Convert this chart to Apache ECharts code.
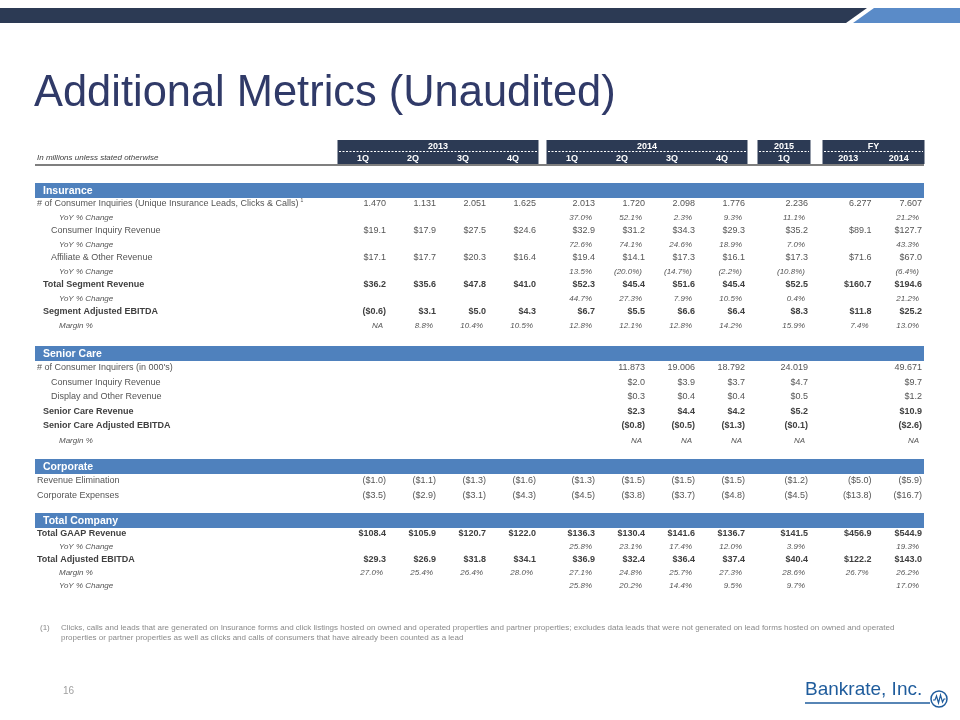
<!DOCTYPE html>
<html><head><meta charset="utf-8">
<script src="https://cdn.jsdelivr.net/npm/echarts@6/dist/echarts.min.js"></script>
<style>html,body{margin:0;padding:0;background:#fff}#c{width:960px;height:720px}</style>
</head><body><div id="c"></div>
<script>
// ---------- DATA ----------
const titleText = 'Additional Metrics (Unaudited)';
const unitsNote = 'In millions unless stated otherwise';
const groupYears = ['2013', '2014', '2015', 'FY'];
const groupCols = [['1Q', '2Q', '3Q', '4Q'], ['1Q', '2Q', '3Q', '4Q'], ['1Q'], ['2013', '2014']];
const sectionNames = ['Insurance', 'Senior Care', 'Corporate', 'Total Company'];

// Insurance
const insInquiries = [1.470, 1.131, 2.051, 1.625, 2.013, 1.720, 2.098, 1.776, 2.236, 6.277, 7.607];
const insInquiriesYoY = [null, null, null, null, 37.0, 52.1, 2.3, 9.3, 11.1, null, 21.2];
const insInquiryRevenue = [19.1, 17.9, 27.5, 24.6, 32.9, 31.2, 34.3, 29.3, 35.2, 89.1, 127.7];
const insInquiryRevenueYoY = [null, null, null, null, 72.6, 74.1, 24.6, 18.9, 7.0, null, 43.3];
const insAffiliateRevenue = [17.1, 17.7, 20.3, 16.4, 19.4, 14.1, 17.3, 16.1, 17.3, 71.6, 67.0];
const insAffiliateRevenueYoY = [null, null, null, null, 13.5, -20.0, -14.7, -2.2, -10.8, null, -6.4];
const insSegmentRevenue = [36.2, 35.6, 47.8, 41.0, 52.3, 45.4, 51.6, 45.4, 52.5, 160.7, 194.6];
const insSegmentRevenueYoY = [null, null, null, null, 44.7, 27.3, 7.9, 10.5, 0.4, null, 21.2];
const insSegmentEbitda = [-0.6, 3.1, 5.0, 4.3, 6.7, 5.5, 6.6, 6.4, 8.3, 11.8, 25.2];
const insSegmentMargin = ['NA', 8.8, 10.4, 10.5, 12.8, 12.1, 12.8, 14.2, 15.9, 7.4, 13.0];

// Senior Care
const scInquirers = [null, null, null, null, null, 11.873, 19.006, 18.792, 24.019, null, 49.671];
const scInquiryRevenue = [null, null, null, null, null, 2.0, 3.9, 3.7, 4.7, null, 9.7];
const scDisplayRevenue = [null, null, null, null, null, 0.3, 0.4, 0.4, 0.5, null, 1.2];
const scRevenue = [null, null, null, null, null, 2.3, 4.4, 4.2, 5.2, null, 10.9];
const scEbitda = [null, null, null, null, null, -0.8, -0.5, -1.3, -0.1, null, -2.6];
const scMargin = [null, null, null, null, null, 'NA', 'NA', 'NA', 'NA', null, 'NA'];

// Corporate
const corpRevenueElimination = [-1.0, -1.1, -1.3, -1.6, -1.3, -1.5, -1.5, -1.5, -1.2, -5.0, -5.9];
const corpExpenses = [-3.5, -2.9, -3.1, -4.3, -4.5, -3.8, -3.7, -4.8, -4.5, -13.8, -16.7];

// Total Company
const tcGaapRevenue = [108.4, 105.9, 120.7, 122.0, 136.3, 130.4, 141.6, 136.7, 141.5, 456.9, 544.9];
const tcGaapRevenueYoY = [null, null, null, null, 25.8, 23.1, 17.4, 12.0, 3.9, null, 19.3];
const tcAdjEbitda = [29.3, 26.9, 31.8, 34.1, 36.9, 32.4, 36.4, 37.4, 40.4, 122.2, 143.0];
const tcAdjEbitdaMargin = [27.0, 25.4, 26.4, 28.0, 27.1, 24.8, 25.7, 27.3, 28.6, 26.7, 26.2];
const tcAdjEbitdaYoY = [null, null, null, null, 25.8, 20.2, 14.4, 9.5, 9.7, null, 17.0];

const footnoteMark = '(1)';
const footnoteLines = [
  'Clicks, calls and leads that are generated on Insurance forms and click listings hosted on owned and operated properties and partner properties; excludes data leads that were not generated on lead forms hosted on owned and operated',
  'properties or partner properties as well as clicks and calls of consumers that have already been counted as a lead'
];
const pageNumber = '16';
const logoText = 'Bankrate, Inc.';

// ---------- TABLE STRUCTURE (built from the arrays above) ----------
const YOY = 'YoY % Change', MARGIN = 'Margin %';
const sections = [
  [
    { kind: 'bar', label: sectionNames[0] },
    { label: '# of Consumer Inquiries (Unique Insurance Leads, Clicks & Calls)', sup: '1', values: insInquiries, fmt: 'count', style: 'main', indent: 2 },
    { label: YOY, values: insInquiriesYoY, fmt: 'pct', style: 'sub', indent: 24 },
    { label: 'Consumer Inquiry Revenue', values: insInquiryRevenue, fmt: 'money', style: 'main', indent: 16 },
    { label: YOY, values: insInquiryRevenueYoY, fmt: 'pct', style: 'sub', indent: 24 },
    { label: 'Affiliate & Other Revenue', values: insAffiliateRevenue, fmt: 'money', style: 'main', indent: 16 },
    { label: YOY, values: insAffiliateRevenueYoY, fmt: 'pct', style: 'sub', indent: 24 },
    { label: 'Total Segment Revenue', values: insSegmentRevenue, fmt: 'money', style: 'bold', indent: 8 },
    { label: YOY, values: insSegmentRevenueYoY, fmt: 'pct', style: 'sub', indent: 24 },
    { label: 'Segment Adjusted EBITDA', values: insSegmentEbitda, fmt: 'money', style: 'bold', indent: 8 },
    { label: MARGIN, values: insSegmentMargin, fmt: 'pct', style: 'sub', indent: 24 }
  ],
  [
    { kind: 'bar', label: sectionNames[1] },
    { label: "# of Consumer Inquirers (in 000's)", values: scInquirers, fmt: 'count', style: 'main', indent: 2 },
    { label: 'Consumer Inquiry Revenue', values: scInquiryRevenue, fmt: 'money', style: 'main', indent: 16 },
    { label: 'Display and Other Revenue', values: scDisplayRevenue, fmt: 'money', style: 'main', indent: 16 },
    { label: 'Senior Care Revenue', values: scRevenue, fmt: 'money', style: 'bold', indent: 8 },
    { label: 'Senior Care Adjusted EBITDA', values: scEbitda, fmt: 'money', style: 'bold', indent: 8 },
    { label: MARGIN, values: scMargin, fmt: 'pct', style: 'sub', indent: 24 }
  ],
  [
    { kind: 'bar', label: sectionNames[2] },
    { label: 'Revenue Elimination', values: corpRevenueElimination, fmt: 'money', style: 'main', indent: 2 },
    { label: 'Corporate Expenses', values: corpExpenses, fmt: 'money', style: 'main', indent: 2 }
  ],
  [
    { kind: 'bar', label: sectionNames[3] },
    { label: 'Total GAAP Revenue', values: tcGaapRevenue, fmt: 'money', style: 'bold', indent: 2 },
    { label: YOY, values: tcGaapRevenueYoY, fmt: 'pct', style: 'sub', indent: 24 },
    { label: 'Total Adjusted EBITDA', values: tcAdjEbitda, fmt: 'money', style: 'bold', indent: 2 },
    { label: MARGIN, values: tcAdjEbitdaMargin, fmt: 'pct', style: 'sub', indent: 24 },
    { label: YOY, values: tcAdjEbitdaYoY, fmt: 'pct', style: 'sub', indent: 24 }
  ]
];

// ---------- LAYOUT & STYLE ----------
const FONT = '"Liberation Sans", Arial, Helvetica, sans-serif';
const DARK = '#2C3A54';
const BAR_BLUE = '#4F81BD';
const TABLE_LEFT = 35, TABLE_RIGHT = 924;
const groupBoxes = [{ left: 338, width: 200 }, { left: 547, width: 200 }, { left: 758, width: 52 }, { left: 823, width: 101 }];
const headerBox = { top: 140, height: 24 };
const sectionLayout = [
  { center: 190.5, slot: 13.5 },
  { center: 353.5, slot: 14.5 },
  { center: 466.5, slot: 14.3 },
  { center: 520.5, slot: 13.0 }
];
const rowStyles = {
  main: { fontSize: 9, fontWeight: 'normal', fontStyle: 'normal', fill: '#555555', pad: 2 },
  bold: { fontSize: 9, fontWeight: 'bold', fontStyle: 'normal', fill: '#3f3f3f', pad: 2 },
  sub: { fontSize: 8, fontWeight: 'normal', fontStyle: 'italic', fill: '#555555', pad: 5 }
};

function fmtValue(v, kind) {
  if (typeof v === 'string') return v;
  const a = Math.abs(v);
  if (kind === 'count') return v.toFixed(3);
  if (kind === 'money') return v < 0 ? '($' + a.toFixed(1) + ')' : '$' + a.toFixed(1);
  return v < 0 ? '(' + a.toFixed(1) + '%)' : a.toFixed(1) + '%';
}

const option = { animation: false, grid: [], xAxis: [], yAxis: [], series: [] };
function addGrid(left, top, width, height, xData, yData) {
  const i = option.grid.length;
  option.grid.push({ left, top, width, height, containLabel: false, show: false });
  option.xAxis.push({ type: 'category', gridIndex: i, data: xData, show: false });
  option.yAxis.push({ type: 'category', gridIndex: i, data: yData, inverse: true, show: false });
  return i;
}

// Header boxes
let colStart = 0;
const groupStarts = [];
groupCols.forEach((cols, gi) => {
  groupStarts.push(colStart); colStart += cols.length;
  const box = groupBoxes[gi];
  const idx = addGrid(box.left, headerBox.top, box.width, headerBox.height, cols, ['year', 'quarter']);
  // box cells
  option.series.push({
    type: 'custom', coordinateSystem: 'cartesian2d', xAxisIndex: idx, yAxisIndex: idx,
    data: cols.map((c, ci) => [ci, 1]), encode: { x: 0, y: 1 }, silent: true, z: 2,
    renderItem: function (params, api) {
      const cs = params.coordSys;
      const c = api.coord([api.value(0), 1]);
      const s = api.size([1, 1]);
      return { type: 'rect', shape: { x: c[0] - s[0] / 2 - 0.5, y: cs.y, width: s[0] + 1, height: cs.height }, style: { fill: DARK } };
    }
  });
  // header texts
  option.series.push({
    type: 'custom', coordinateSystem: 'cartesian2d', xAxisIndex: idx, yAxisIndex: idx,
    data: cols.map((c, ci) => [ci, 1]), encode: { x: 0, y: 1 }, silent: true, z: 4,
    renderItem: function (params, api) {
      const cs = params.coordSys;
      const c = api.coord([api.value(0), 1]);
      const children = [
        { type: 'text', x: c[0], y: c[1] + 0.5, style: { text: cols[params.dataIndex], align: 'center', verticalAlign: 'middle', fill: '#ffffff', fontSize: 9, fontWeight: 'bold', fontFamily: FONT } }
      ];
      if (params.dataIndex === 0) {
        const yMid = cs.y + cs.height / 2;
        children.push({ type: 'line', shape: { x1: cs.x + 1, y1: yMid - 0.5, x2: cs.x + cs.width - 1, y2: yMid - 0.5 }, style: { stroke: '#ffffff', lineWidth: 1, lineDash: [2, 1.5] } });
        children.push({ type: 'text', x: cs.x + cs.width / 2, y: cs.y + cs.height / 4 + 0.5, style: { text: groupYears[gi], align: 'center', verticalAlign: 'middle', fill: '#ffffff', fontSize: 9, fontWeight: 'bold', fontFamily: FONT } });
      }
      return { type: 'group', children };
    }
  });
});

// Sections
sections.forEach((rows, si) => {
  const lay = sectionLayout[si];
  const top = lay.center - lay.slot / 2;
  const height = lay.slot * rows.length;
  const yData = rows.map((r, i) => String(i));
  const li = addGrid(TABLE_LEFT, top, TABLE_RIGHT - TABLE_LEFT, height, ['label'], yData);
  option.series.push({
    type: 'custom', coordinateSystem: 'cartesian2d', xAxisIndex: li, yAxisIndex: li,
    data: rows.map((r, i) => [0, i]), encode: { x: 0, y: 1 }, silent: true, z: 1,
    renderItem: function (params, api) {
      const r = rows[params.dataIndex];
      const c = api.coord([0, api.value(1)]);
      const s = api.size([1, 1]);
      const x0 = c[0] - s[0] / 2;
      if (r.kind === 'bar') {
        return { type: 'group', children: [
          { type: 'rect', shape: { x: x0, y: c[1] - 7.5, width: s[0], height: 15 }, style: { fill: BAR_BLUE } },
          { type: 'text', x: x0 + 8, y: c[1] + 0.5, style: { text: r.label, align: 'left', verticalAlign: 'middle', fill: '#ffffff', fontSize: 10.5, fontWeight: 'bold', fontFamily: FONT } }
        ] };
      }
      const st = rowStyles[r.style];
      const txtStyle = { align: 'left', verticalAlign: 'middle', fill: st.fill, fontSize: st.fontSize, fontWeight: st.fontWeight, fontStyle: st.fontStyle, fontFamily: FONT };
      if (r.sup) {
        txtStyle.text = '{a|' + r.label + '}{s|' + r.sup + '}';
        txtStyle.rich = {
          a: { fill: st.fill, fontSize: st.fontSize, fontFamily: FONT, lineHeight: 11 },
          s: { fill: st.fill, fontSize: 5, fontFamily: FONT, verticalAlign: 'top', lineHeight: 11, padding: [0, 0, 0, 2] }
        };
      } else {
        txtStyle.text = r.label;
      }
      return { type: 'text', x: x0 + r.indent, y: c[1], style: txtStyle };
    }
  });

  groupCols.forEach((cols, gi) => {
    const box = groupBoxes[gi];
    const gIdx = addGrid(box.left, top, box.width, height, cols, yData);
    const cells = [];
    rows.forEach((r, ri) => {
      if (!r.values) return;
      cols.forEach((_, ci) => {
        const v = r.values[groupStarts[gi] + ci];
        if (v === null || v === undefined) return;
        cells.push({ ci, ri, text: fmtValue(v, r.fmt), st: rowStyles[r.style] });
      });
    });
    option.series.push({
      type: 'custom', coordinateSystem: 'cartesian2d', xAxisIndex: gIdx, yAxisIndex: gIdx,
      data: cells.map(c => [c.ci, c.ri]), encode: { x: 0, y: 1 }, silent: true, z: 3,
      renderItem: function (params, api) {
        const cell = cells[params.dataIndex];
        const c = api.coord([api.value(0), api.value(1)]);
        const s = api.size([1, 1]);
        const st = cell.st;
        return { type: 'text', x: c[0] + s[0] / 2 - st.pad, y: c[1], style: {
          text: cell.text, align: 'right', verticalAlign: 'middle', fill: st.fill,
          fontSize: st.fontSize, fontWeight: st.fontWeight, fontStyle: st.fontStyle, fontFamily: FONT } };
      }
    });
  });
});

// Slide decorations
option.graphic = { elements: [
  { type: 'polygon', shape: { points: [[0, 8], [867, 8], [846, 23], [0, 23]] }, style: { fill: DARK }, silent: true },
  { type: 'polygon', shape: { points: [[874, 8], [960, 8], [960, 23], [853, 23]] }, style: { fill: '#5A8BC8' }, silent: true },
  { type: 'text', x: 34, y: 94, scaleX: 0.965, style: { text: titleText, fontSize: 45, fontFamily: FONT, fill: '#303A68', verticalAlign: 'middle' }, silent: true },
  { type: 'text', x: 37, y: 158, style: { text: unitsNote, fontSize: 8, fontStyle: 'italic', fontFamily: FONT, fill: '#404040', verticalAlign: 'middle' }, silent: true },
  { type: 'line', shape: { x1: TABLE_LEFT, y1: 165, x2: TABLE_RIGHT, y2: 165 }, style: { stroke: '#7F7F7F', lineWidth: 2 }, silent: true },
  { type: 'text', x: 40, y: 628, style: { text: footnoteMark, fontSize: 8, fontFamily: FONT, fill: '#8A8A8A', verticalAlign: 'middle' }, silent: true },
  { type: 'text', x: 61, y: 628, style: { text: footnoteLines[0], fontSize: 8, fontFamily: FONT, fill: '#8A8A8A', verticalAlign: 'middle' }, silent: true },
  { type: 'text', x: 61, y: 638, style: { text: footnoteLines[1], fontSize: 8, fontFamily: FONT, fill: '#8A8A8A', verticalAlign: 'middle' }, silent: true },
  { type: 'text', x: 63, y: 691, style: { text: pageNumber, fontSize: 10, fontFamily: FONT, fill: '#A0A0A0', verticalAlign: 'middle' }, silent: true },
  { type: 'text', x: 805, y: 690, style: { text: logoText, fontSize: 19, fontFamily: FONT, fill: '#1F5C9C', verticalAlign: 'middle' }, silent: true },
  { type: 'line', shape: { x1: 805, y1: 703, x2: 930, y2: 703 }, style: { stroke: '#1F5C9C', lineWidth: 1.5 }, silent: true },
  { type: 'circle', shape: { cx: 939, cy: 699, r: 8 }, style: { fill: '#ffffff', stroke: '#1F5C9C', lineWidth: 1.5 }, silent: true },
  { type: 'polyline', shape: { points: [[933, 700], [935, 700], [936.5, 696], [938.5, 703], [940.5, 695], [942.5, 702], [944, 699], [945.5, 699]] }, style: { stroke: '#1F5C9C', lineWidth: 1.2, fill: null }, silent: true }
] };

const chart = echarts.init(document.getElementById('c'), null, { renderer: 'canvas' });
chart.setOption(option);
</script>
</body></html>
